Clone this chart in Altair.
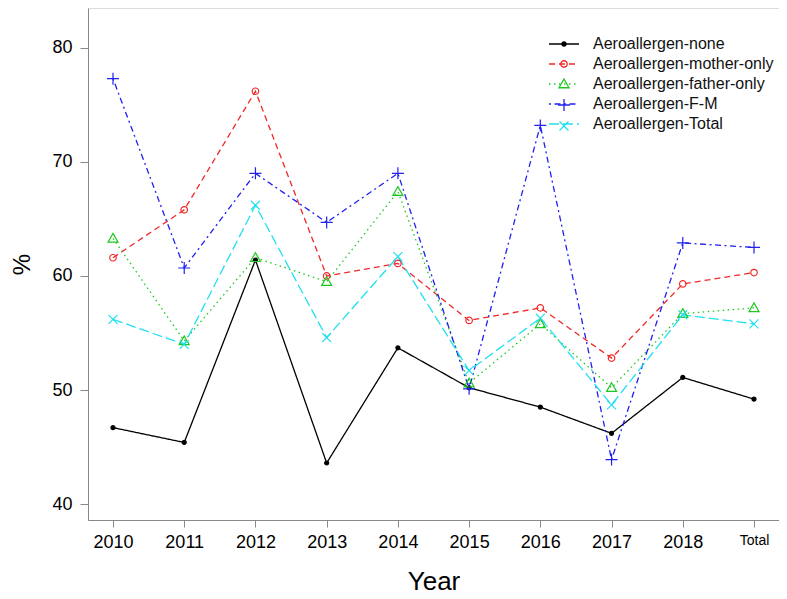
import altair as alt
import pandas as pd

years = ["2010", "2011", "2012", "2013", "2014", "2015", "2016", "2017", "2018", "Total"]
series_names = [
    "Aeroallergen-none",
    "Aeroallergen-mother-only",
    "Aeroallergen-father-only",
    "Aeroallergen-F-M",
    "Aeroallergen-Total",
]
none_vals = [46.7, 45.4, 61.4, 43.6, 53.7, 50.2, 48.5, 46.2, 51.1, 49.2]
mother_vals = [61.6, 65.8, 76.2, 60.0, 61.1, 56.1, 57.2, 52.8, 59.3, 60.3]
father_vals = [63.3, 54.3, 61.6, 59.5, 67.4, 50.6, 55.8, 50.2, 56.7, 57.2]
fm_vals = [77.3, 60.7, 69.0, 64.7, 69.0, 50.1, 73.2, 43.9, 62.9, 62.5]
total_vals = [56.2, 54.0, 66.2, 54.6, 61.7, 51.7, 56.3, 48.7, 56.6, 55.8]

colors = ["#000000", "#F02828", "#1EC81E", "#2020F0", "#20E0F0"]
dashes = [[1, 0], [6, 4], [1.5, 3.5], [2, 3.5, 6, 3.5], [10, 4]]
shapes = [
    "M-0.4,0a0.4,0.4 0 1,0 0.8,0a0.4,0.4 0 1,0 -0.8,0Z",
    "M-0.65,0a0.65,0.65 0 1,0 1.3,0a0.65,0.65 0 1,0 -1.3,0Z",
    "M0,-1L1,0.75L-1,0.75Z",
    "M-1.2,0H1.2M0,-1.2V1.2",
    "M-0.9,-0.9L0.9,0.9M-0.9,0.9L0.9,-0.9",
]
fills = ["#000000", "transparent", "transparent", "transparent", "transparent"]

all_vals = [none_vals, mother_vals, father_vals, fm_vals, total_vals]
rows = []
for name, vals in zip(series_names, all_vals):
    for yr, v in zip(years, vals):
        rows.append({"Year": yr, "pct": v, "series": name, "series2": name + " "})
df = pd.DataFrame(rows)
series2_names = [n + " " for n in series_names]

FONT = "Liberation Sans"

x_enc = alt.X(
    "Year:N",
    sort=years,
    scale=alt.Scale(type="point", padding=0.351),
    axis=alt.Axis(
        title="Year",
        grid=False,
        labelAngle=0,
        labelFontSize={"condition": {"test": "datum.value == 'Total'", "value": 14}, "value": 18},
        titleFontSize=26,
        titleFontWeight="normal",
        tickSize=7,
        labelPadding=6,
        titlePadding=17,
    ),
)
y_enc = alt.Y(
    "pct:Q",
    scale=alt.Scale(domain=[38.6, 83.5], nice=False, zero=False),
    axis=alt.Axis(
        title="%",
        grid=False,
        values=[40, 50, 60, 70, 80],
        labelFontSize=18,
        titleFontSize=24,
        titleFontWeight="normal",
        tickSize=8,
        labelPadding=8,
        titlePadding=17,
    ),
)

legend_common = dict(
    orient="none",
    legendX=468,
    legendY=28,
    title=None,
    labelFontSize=16,
    labelFont=FONT,
    labelLimit=400,
    rowPadding=4,
    symbolSize=100,
    symbolStrokeWidth=1.3,
)

lines = alt.Chart(df).mark_line(strokeWidth=1.3).encode(
    x=x_enc,
    y=y_enc,
    color=alt.Color(
        "series:N",
        scale=alt.Scale(domain=series_names, range=colors),
        legend=alt.Legend(symbolType="M-3,0H3", labelOffset=21, labelColor="#111", **legend_common),
    ),
    strokeDash=alt.StrokeDash(
        "series:N",
        scale=alt.Scale(domain=series_names, range=dashes),
        legend=alt.Legend(symbolType="M-3,0H3", labelOffset=21, labelColor="#111", **legend_common),
    ),
    detail="series:N",
)

legend_b = dict(labelExpr="' '", labelOffset=21, **legend_common)
points = alt.Chart(df).mark_point(filled=False, size=100, strokeWidth=1.2, opacity=1).encode(
    x=x_enc,
    y=y_enc,
    stroke=alt.Stroke(
        "series2:N",
        scale=alt.Scale(domain=series2_names, range=colors),
        legend=alt.Legend(**legend_b),
    ),
    shape=alt.Shape(
        "series2:N",
        scale=alt.Scale(domain=series2_names, range=shapes),
        legend=alt.Legend(**legend_b),
    ),
    fill=alt.Fill(
        "series2:N",
        scale=alt.Scale(domain=series2_names, range=fills),
        legend=alt.Legend(**legend_b),
    ),
)

chart = (
    alt.layer(lines, points)
    .properties(
        width=691,
        height=512,
        autosize=alt.AutoSizeParams(type="none"),
        padding={"left": 80, "top": 0, "right": 0, "bottom": 79},
    )
    .configure_view(stroke=None)
    .configure_axis(
        grid=False,
        labelFont=FONT,
        titleFont=FONT,
        labelColor="#111",
        titleColor="#111",
        domainColor="#333",
        tickColor="#333",
        domainWidth=1.2,
        tickWidth=1.2,
    )
    .configure(background="white")
)

chart.save("out.html", embed_options={"renderer": "svg", "actions": False})
